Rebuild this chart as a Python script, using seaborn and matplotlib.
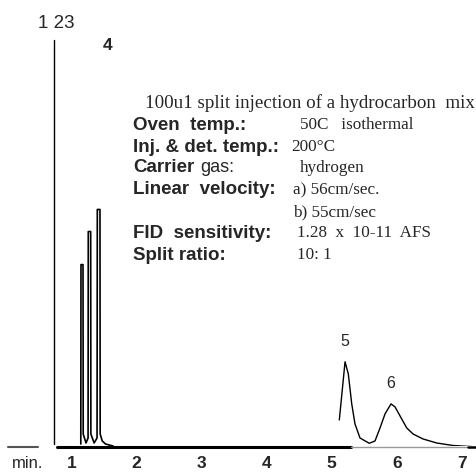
import numpy as np
import pandas as pd
import matplotlib
matplotlib.use("Agg")
import matplotlib.pyplot as plt
import seaborn as sns

# chromatogram traces (time in min, signal in arbitrary units)
inj_t = [0.728, 0.728]
inj_h = [2, 405]

early_t = [1.140, 1.143, 1.174, 1.177, 1.220, 1.252, 1.255, 1.292, 1.295, 1.345,
           1.390, 1.394, 1.435, 1.438, 1.470, 1.520, 1.636]
early_h = [2, 181, 181, 12, 3, 8, 214, 214, 12, 3,
           8, 236, 236, 12, 5, 2, 0]

late_t = [5.117, 5.205, 5.255, 5.308, 5.358, 5.435, 5.578, 5.666, 5.743, 5.820,
          5.912, 5.974, 6.051, 6.154, 6.251, 6.405, 6.615, 6.866, 7.128, 7.235]
late_h = [26, 84, 72, 42, 22, 8, 2.7, 5, 18, 32,
          42, 39, 30, 18, 12, 7, 3, 0.5, -0.5, -1]

tick_pos = [1, 2, 3, 4, 5, 6, 7]
tick_lab = ['1', '2', '3', '4', '5', '6', '7']

peak_labels = ['1 23', '4', '5', '6']

info_keys = ['Oven  temp.:', 'Inj. & det. temp.:', 'Carrier', 'Linear  velocity:',
             '', 'FID  sensitivity:', 'Split ratio:']
info_vals = ['50C   isothermal', '200°C', 'hydrogen', 'a) 56cm/sec.',
             'b) 55cm/sec', '1.28  x  10-11  AFS', '10: 1']
info_vx = [300, 291, 300, 293, 293, 297, 297]
title_line = '100u1 split injection of a hydrocarbon  mix'

sns.set_style("white")
plt.rcParams['font.family'] = ['Liberation Sans', 'DejaVu Sans']

W, H = 477, 474
fig = plt.figure(figsize=[W / 100, H / 100], dpi=100)
base_px = 446
ax = fig.add_axes([0, (H - base_px) / H, 1, base_px / H])
ax.set_xlim(-0.103, 7.235)
ax.set_ylim(0, base_px - 1)

early = pd.DataFrame({'t': early_t, 'h': early_h})
late = pd.DataFrame({'t': late_t, 'h': late_h})
inj = pd.DataFrame({'t': inj_t, 'h': inj_h})
sns.lineplot(data=inj, x='t', y='h', color='black', lw=1.0, sort=False, estimator=None, ax=ax)
sns.lineplot(data=early, x='t', y='h', color='black', lw=1.2, sort=False, estimator=None, ax=ax)
sns.lineplot(data=late, x='t', y='h', color='black', lw=1.0, sort=False, estimator=None, ax=ax)

# baselines
ax.plot([0.774, 5.30], [-0.5, -0.5], color='black', lw=2.2, clip_on=False)
ax.plot([5.30, 7.10], [-0.5, -0.5], color='#999999', lw=1.0, clip_on=False)
ax.plot([7.10, 7.235], [-0.5, -0.5], color='black', lw=1.8, clip_on=False)
ax.plot([0.02, 0.48], [-0.5, -0.5], color='#555555', lw=1.5, clip_on=False)

for s in ax.spines.values():
    s.set_visible(False)
ax.set_yticks([])
ax.set_xticks(tick_pos)
ax.set_xticklabels(tick_lab, fontweight='bold', fontsize=12.5)
ax.tick_params(axis='x', length=0, pad=7)
ax.set_xlabel('')
ax.set_ylabel('')


def fx(px):
    return px / W


def fy(py):
    return 1 - py / H


fig.text(fx(56), fy(23), peak_labels[0], fontsize=13.5, ha='center', va='center')
fig.text(fx(108), fy(46), peak_labels[1], fontsize=12.5, fontweight='bold', ha='center', va='center')
fig.text(fx(345), fy(341), peak_labels[2], fontsize=11.5, ha='center', va='center')
fig.text(fx(391), fy(384), peak_labels[3], fontsize=11.5, ha='center', va='center')
fig.text(fx(12), fy(464), 'min.', fontsize=12, ha='left', va='center')

serif = ['Liberation Serif', 'DejaVu Serif']
fig.text(fx(145), fy(103), title_line, family=serif, fontsize=13.7, ha='left', va='center')
rows_y = [125, 147, 168, 190, 212, 233, 255]
for key, val, vx, y in zip(info_keys, info_vals, info_vx, rows_y):
    if key == 'Carrier':
        fig.text(fx(133), fy(y), key, fontsize=13.5, fontweight='bold', ha='left', va='center')
        fig.text(fx(200), fy(y), 'gas:', fontsize=13, ha='left', va='center')
    elif key:
        fig.text(fx(133), fy(y), key, fontsize=13.5, fontweight='bold', ha='left', va='center')
    fig.text(fx(vx), fy(y), val, family=serif, fontsize=12.3, ha='left', va='center')

fig.savefig('out.png', dpi=100)
